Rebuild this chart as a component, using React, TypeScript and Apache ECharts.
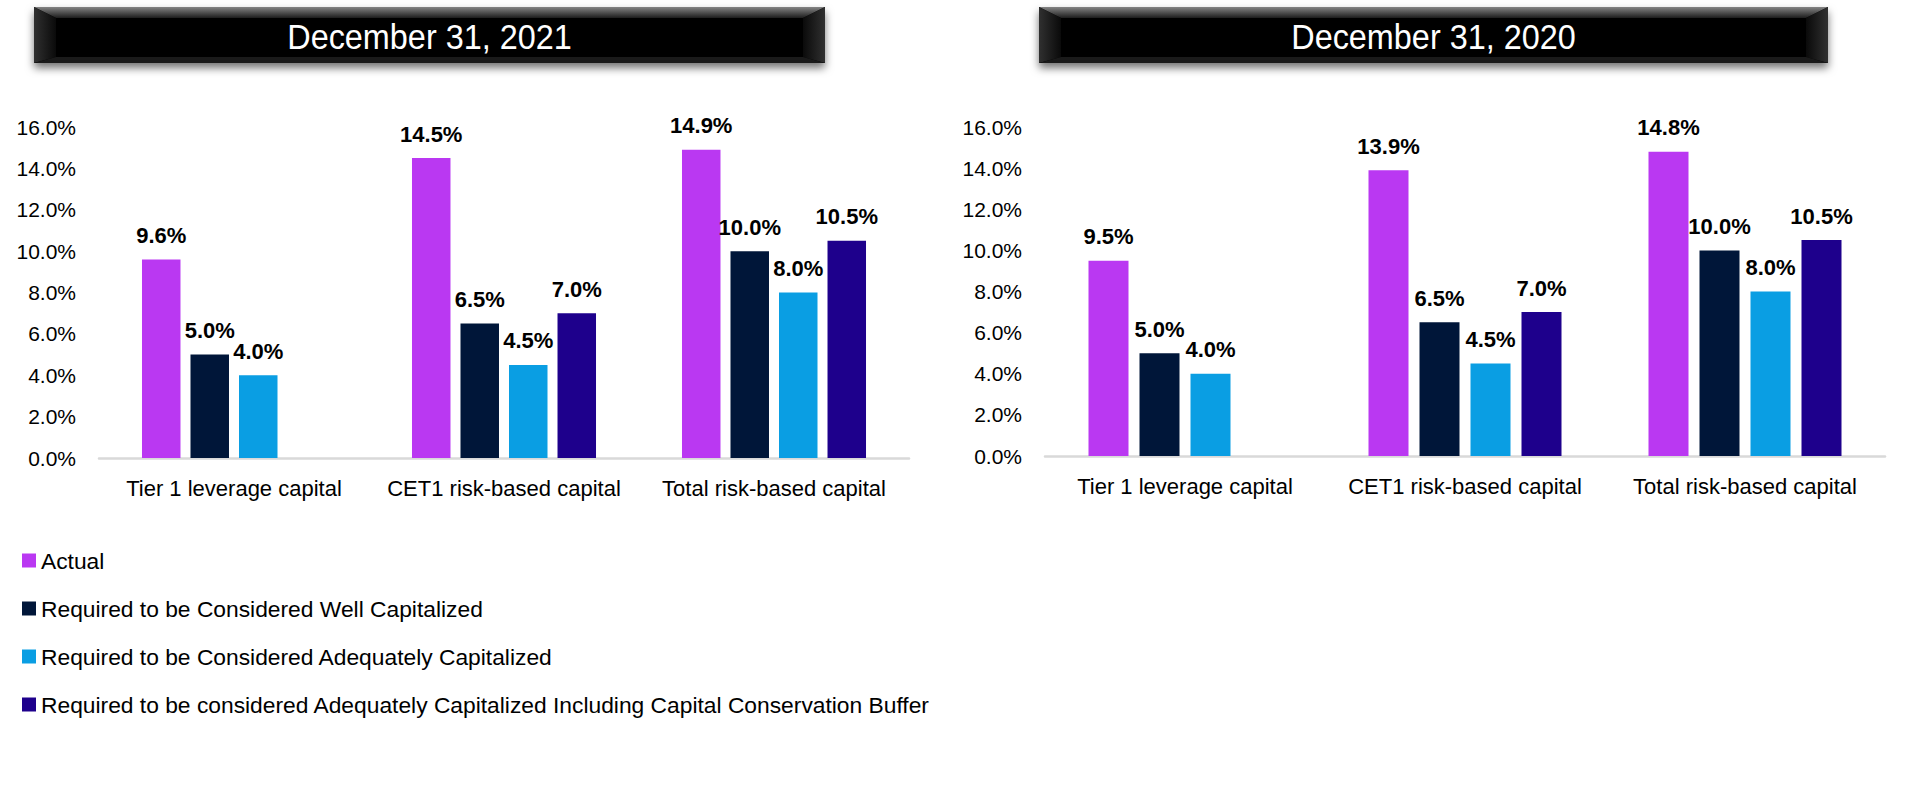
import React, { useEffect, useRef } from "react";
import * as echarts from "echarts";

const categories = ["Tier 1 leverage capital", "CET1 risk-based capital", "Total risk-based capital"];
const seriesNames = [
  "Actual",
  "Required to be Considered Well Capitalized",
  "Required to be Considered Adequately Capitalized",
  "Required to be considered Adequately Capitalized Including Capital Conservation Buffer",
];
const colors = ["#BA38F2", "#001639", "#0A9EE3", "#1E008C"];

const actual2021 = [9.6, 14.5, 14.9];
const well2021 = [5.0, 6.5, 10.0];
const adequate2021 = [4.0, 4.5, 8.0];
const buffer2021 = [null, 7.0, 10.5];

const actual2020 = [9.5, 13.9, 14.8];
const well2020 = [5.0, 6.5, 10.0];
const adequate2020 = [4.0, 4.5, 8.0];
const buffer2020 = [null, 7.0, 10.5];

const panelTitles = ["December 31, 2021", "December 31, 2020"];
const yTicks = { min: 0, max: 16, interval: 2 };

const FONT = "Liberation Sans, Arial, sans-serif";

function titleBox(x: number, y: number, w: number, h: number, text: string) {
  const b = 22; // side bevel width
  const t = 11; // top bevel
  const bb = 6; // bottom bevel
  return {
    type: "group",
    children: [
      {
        type: "rect",
        shape: { x, y, width: w, height: h },
        style: {
          fill: "#000",
          shadowBlur: 8,
          shadowOffsetY: 5,
          shadowColor: "rgba(0,0,0,0.55)",
        },
        z: 1,
      },
      {
        type: "polygon",
        shape: { points: [[x, y], [x + w, y], [x + w - b, y + t], [x + b, y + t]] },
        style: {
          fill: {
            type: "linear", x: 0, y: 0, x2: 0, y2: 1,
            colorStops: [
              { offset: 0, color: "#858585" },
              { offset: 1, color: "#1c1c1c" },
            ],
          },
        },
        z: 2,
      },
      {
        type: "polygon",
        shape: { points: [[x, y], [x + b, y + t], [x + b, y + h - bb], [x, y + h]] },
        style: {
          fill: {
            type: "linear", x: 0, y: 0, x2: 1, y2: 0,
            colorStops: [
              { offset: 0, color: "#303030" },
              { offset: 1, color: "#0a0a0a" },
            ],
          },
        },
        z: 2,
      },
      {
        type: "polygon",
        shape: { points: [[x + w, y], [x + w - b, y + t], [x + w - b, y + h - bb], [x + w, y + h]] },
        style: {
          fill: {
            type: "linear", x: 0, y: 0, x2: 1, y2: 0,
            colorStops: [
              { offset: 0, color: "#0a0a0a" },
              { offset: 1, color: "#303030" },
            ],
          },
        },
        z: 2,
      },
      {
        type: "polygon",
        shape: { points: [[x + b, y + h - bb], [x + w - b, y + h - bb], [x + w, y + h], [x, y + h]] },
        style: { fill: "#1a1a1a" },
        z: 2,
      },
      {
        type: "text",
        x: x + w / 2,
        y: y + h / 2 + 1,
        scaleX: 0.9,
        style: {
          text,
          fill: "#fff",
          font: `36px ${FONT}`,
          align: "center",
          verticalAlign: "middle",
        },
        z: 3,
      },
    ],
  };
}

export default function App() {
  const ref = useRef<HTMLDivElement>(null);

  useEffect(() => {
    if (!ref.current) return;
    const chart = echarts.init(ref.current, undefined, { renderer: "svg" });

    const pct = (v: number) => `${v.toFixed(1)}%`;

    const grids = [
      { left: 99, top: 127, width: 810, height: 331 },
      { left: 1045, top: 127, width: 840, height: 329 },
    ];

    const data2021 = [actual2021, well2021, adequate2021, buffer2021];
    const data2020 = [actual2020, well2020, adequate2020, buffer2020];
    const widths = [38.5, 40];
    const gaps = ["26%", "27.5%"];

    const series: any[] = [];
    [data2021, data2020].forEach((set, gi) => {
      set.forEach((vals, si) => {
        series.push({
          type: "bar",
          name: seriesNames[si],
          xAxisIndex: gi,
          yAxisIndex: gi,
          data: vals,
          barWidth: widths[gi],
          barGap: gaps[gi],
          itemStyle: { color: colors[si] },
          label: {
            show: true,
            position: "top",
            distance: 13,
            formatter: (p: any) => (p.value == null ? "" : pct(p.value)),
            fontFamily: FONT,
            fontWeight: "bold",
            fontSize: 22,
            color: "#000",
          },
        });
      });
    });

    const option: any = {
      animation: false,
      backgroundColor: "#fff",
      grid: grids,
      xAxis: grids.map((_, i) => ({
        type: "category",
        gridIndex: i,
        data: categories,
        axisTick: { show: false },
        axisLine: { show: true, lineStyle: { color: "#d9d9d9", width: 2.5 } },
        axisLabel: { color: "#000", fontFamily: FONT, fontSize: 22, margin: 19, interval: 0 },
      })),
      yAxis: grids.map((_, i) => ({
        type: "value",
        gridIndex: i,
        min: yTicks.min,
        max: yTicks.max,
        interval: yTicks.interval,
        splitLine: { show: false },
        axisLine: { show: false },
        axisTick: { show: false },
        axisLabel: {
          color: "#000",
          fontFamily: FONT,
          fontSize: 21,
          margin: 23,
          formatter: (v: number) => pct(v),
        },
      })),
      legend: {
        data: seriesNames,
        orient: "vertical",
        left: 17,
        top: 544,
        icon: "rect",
        itemWidth: 14,
        itemHeight: 14,
        itemGap: 25,
        selectedMode: false,
        textStyle: { color: "#000", fontFamily: FONT, fontSize: 22.8 },
      },
      graphic: [
        titleBox(34, 7, 791, 56, panelTitles[0]),
        titleBox(1039, 7, 789, 56, panelTitles[1]),
      ],
      series,
    };

    chart.setOption(option);
    return () => chart.dispose();
  }, []);

  return (
    <div
      ref={ref}
      style={{ position: "absolute", left: 0, top: 0, width: 1908, height: 788 }}
    />
  );
}
